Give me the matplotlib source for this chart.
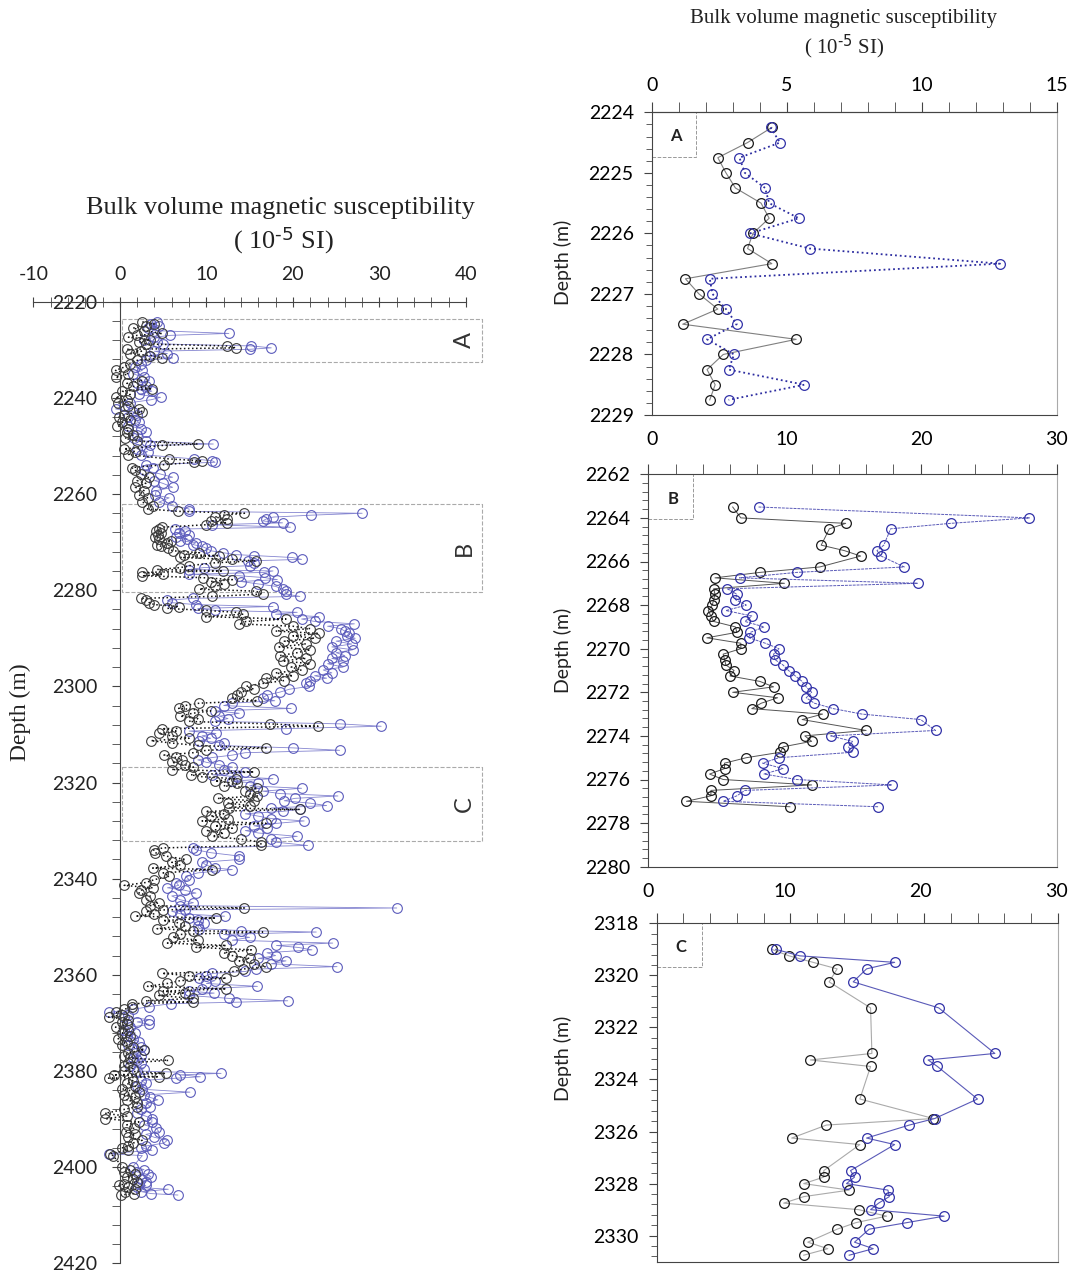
import matplotlib
matplotlib.use('Agg')
import matplotlib.pyplot as plt
from matplotlib.ticker import MultipleLocator
from matplotlib.patches import Rectangle

plt.rcParams['font.family'] = 'Lato'
plt.rcParams['mathtext.default'] = 'regular'
plt.rcParams['axes.unicode_minus'] = False

# ---------------------------------------------------------------------------
# whole-well log (left panel): depth (m), black series, blue series (10^-5 SI)
# ---------------------------------------------------------------------------
depth_left = [
    2224.2, 2224.6, 2225.0, 2225.5, 2226.0, 2226.6, 2227.0, 2227.4, 2227.9, 2228.4,
    2228.8, 2229.2, 2229.6, 2229.9, 2230.3, 2230.8, 2231.2, 2231.7, 2232.2, 2232.9,
    2233.6, 2234.3, 2235.0, 2235.7, 2236.4, 2237.0, 2237.6, 2238.1, 2238.6, 2239.3,
    2239.9, 2240.4, 2241.0, 2241.6, 2242.3, 2242.9, 2243.5, 2244.0, 2244.6, 2245.1,
    2245.8, 2246.4, 2247.2, 2247.8, 2248.4, 2249.0, 2249.6, 2249.9, 2250.6, 2251.2,
    2251.8, 2252.7, 2253.1, 2253.4, 2253.9, 2254.5, 2255.1, 2255.8, 2256.5, 2257.2,
    2257.8, 2258.6, 2259.3, 2260.2, 2260.8, 2261.7, 2262.4, 2263.1,
    2263.6, 2264.0, 2264.4, 2264.8, 2265.2, 2265.6, 2266.0, 2266.4, 2266.9, 2267.3,
    2267.7, 2268.1, 2268.5, 2268.9, 2269.3, 2269.7, 2270.1, 2270.5, 2270.9, 2271.3,
    2271.8, 2272.2, 2272.6, 2272.8, 2273.2, 2273.6, 2273.9, 2274.3, 2274.9, 2275.3,
    2275.7, 2276.0, 2276.3, 2276.7, 2277.0, 2277.4, 2277.8, 2278.2, 2278.7, 2279.2,
    2279.8, 2280.2, 2280.8, 2281.3, 2281.7,
    2282.1, 2282.6, 2283.0, 2283.4, 2283.8, 2284.2, 2284.6, 2285.0, 2285.5, 2286.0,
    2286.5, 2287.0, 2287.5, 2288.0, 2288.5, 2289.0, 2289.5, 2290.0, 2290.6, 2291.2,
    2291.8, 2292.4, 2293.0, 2293.6, 2294.2, 2294.7, 2295.3, 2296.0, 2296.6, 2297.2,
    2297.8, 2298.3, 2298.8, 2299.4, 2300.0, 2300.6, 2301.2, 2301.8, 2302.4,
    2303.0, 2303.5, 2304.0, 2304.6, 2305.1, 2305.6, 2306.2, 2306.7, 2307.3, 2307.8,
    2308.3, 2308.8, 2309.3, 2309.8, 2310.3, 2310.8, 2311.3, 2311.8, 2312.3, 2312.8,
    2313.3, 2313.8, 2314.3, 2314.8, 2315.3, 2315.8, 2316.3, 2316.8, 2317.3, 2317.8,
    2318.4, 2318.8, 2319.2, 2319.7, 2320.2, 2320.7, 2321.2, 2321.8, 2322.3, 2322.8,
    2323.3, 2323.8, 2324.3, 2324.8, 2325.3, 2325.6, 2326.0, 2326.5, 2327.0, 2327.5,
    2328.0, 2328.5, 2329.0, 2329.5, 2330.0, 2330.5, 2331.2, 2331.8, 2332.4, 2333.1,
    2333.6, 2334.0, 2334.6, 2335.3, 2336.0, 2336.6, 2337.2, 2337.8, 2338.1, 2338.8,
    2339.5, 2340.2, 2340.8, 2341.4, 2341.9, 2342.4, 2343.0, 2343.6, 2344.4, 2345.0,
    2345.6, 2346.1, 2346.5, 2346.8, 2347.3, 2347.8, 2348.2, 2348.7, 2349.2, 2349.8,
    2350.4, 2350.8, 2351.1, 2351.6, 2352.2, 2352.8, 2353.4, 2353.9, 2354.3, 2354.8,
    2355.4, 2356.0, 2356.6, 2357.1, 2357.7, 2358.3, 2358.8, 2359.3, 2359.7, 2360.2,
    2360.7, 2361.2, 2361.8, 2362.4, 2362.9, 2363.4, 2363.8, 2364.3, 2364.9, 2365.4,
    2365.7, 2366.0, 2366.6,
    2367.2, 2367.8, 2368.3, 2368.8, 2369.3, 2369.8, 2370.3, 2370.9, 2371.5, 2372.1,
    2372.7, 2373.3, 2373.9, 2374.5, 2375.0, 2375.6, 2376.2, 2376.8, 2377.3, 2377.8,
    2378.3, 2378.9, 2379.5, 2380.0, 2380.5, 2380.8, 2381.2, 2381.5, 2382.0, 2382.6,
    2383.2, 2383.8, 2384.4, 2385.0, 2385.5, 2386.0, 2386.6, 2387.4, 2388.0, 2388.8,
    2389.4, 2389.9, 2390.6, 2391.2, 2391.9, 2392.6, 2393.2, 2393.8, 2394.4, 2395.0,
    2395.6, 2396.0, 2396.5, 2397.2, 2397.6,
    2399.9, 2400.5, 2401.0, 2401.5, 2402.0, 2402.5, 2403.0, 2403.5, 2403.8, 2404.2,
    2404.6, 2405.1, 2405.5, 2405.8,
]
black_left = [
    2.6, 4.0, 3.0, 1.5, 2.8, 4.9, 2.0, 1.0, 3.5, 2.2,
    3.0, 12.4, 13.4, 0.8, 2.5, 1.2, 3.5, 4.9, 2.0, 1.2,
    0.5, -0.5, 1.0, -0.5, 2.6, 0.8, 1.5, 3.7, 0.3, 1.2,
    -0.5, 0.8, -0.2, 1.0, 2.2, 2.6, 0.5, -0.1, 1.2, 0.3,
    -0.3, 1.0, 0.8, 1.5, 0.6, 2.0, 9.0, 4.9, 0.5, 1.8,
    1.0, 5.7, 9.5, 8.6, 5.1, 1.4, 1.8, 2.5, 3.4, 2.0,
    3.0, 1.8, 2.8, 2.2, 3.2, 2.6, 3.8, 3.2,
    6.7, 14.4, 12.0, 11.0, 12.4, 10.5, 12.4, 9.9, 4.9, 4.5,
    4.2, 4.8, 4.4, 4.1, 4.5, 5.9, 5.5, 4.3, 4.8, 5.6,
    6.1, 9.2, 7.4, 11.5, 7.0, 13.0, 15.7, 11.0, 8.0, 7.0,
    4.3, 11.9, 2.6, 5.0, 2.6, 9.6, 13.0, 10.5, 12.0, 11.0,
    9.2, 15.7, 16.5, 10.7, 2.4,
    3.0, 3.4, 4.0, 6.8, 5.5, 9.9, 13.4, 14.2, 9.9, 19.2,
    14.6, 13.8, 20.0, 22.0, 18.0, 23.0, 20.0, 22.5, 19.0, 21.5,
    18.4, 22.0, 20.5, 18.5, 21.5, 18.8, 22.0, 19.8, 21.0, 18.0,
    20.0, 16.9, 19.0, 16.5, 14.6, 15.5, 14.0, 13.5, 13.0,
    15.9, 9.2, 7.5, 6.8, 10.5, 8.4, 7.0, 9.0, 8.0, 17.3,
    22.9, 4.9, 6.5, 4.5, 6.0, 8.0, 3.6, 6.0, 9.0, 16.9,
    10.0, 8.5, 5.1, 6.5, 7.2, 6.0, 7.5, 8.5, 6.0, 15.5,
    8.2, 9.5, 13.4, 11.0, 13.5, 12.0, 15.9, 14.5, 15.0, 15.9,
    11.3, 15.5, 12.5, 15.0, 12.6, 20.8, 9.9, 12.0, 10.5, 12.5,
    9.5, 16.9, 11.0, 13.0, 10.0, 12.0, 10.7, 14.0, 16.3, 16.3,
    5.0, 3.9, 4.1, 5.3, 7.6, 6.0, 7.0, 3.8, 10.7, 5.0,
    5.7, 4.0, 3.0, 0.5, 3.8, 2.5, 2.2, 3.5, 3.0, 4.5,
    3.5, 14.4, 5.0, 3.0, 4.0, 1.8, 11.1, 5.0, 6.8, 7.5,
    4.3, 8.5, 16.5, 7.0, 6.1, 9.0, 5.5, 12.3, 8.8, 15.2,
    12.0, 13.0, 15.0, 13.8, 15.5, 16.9, 14.2, 13.2, 4.9, 8.0,
    12.3, 7.0, 5.5, 3.2, 12.3, 5.0, 7.5, 4.5, 8.4, 3.0,
    8.5, 1.4, 1.4,
    0.5, -0.5, 0.3, -1.3, 1.0, 0.2, 0.8, -0.5, 1.0, 0.3,
    1.2, -0.2, 0.8, 0.2, 1.5, 2.8, 1.0, 0.5, 1.2, 5.6,
    1.0, 0.5, 1.5, 0.5, 5.3, -0.7, 4.5, -1.3, 1.5, 0.8,
    1.8, 0.3, 2.2, 0.5, 1.8, 0.8, 2.0, 2.0, 0.5, -1.7,
    0.8, -1.7, 2.2, 0.8, 1.6, 0.7, 1.8, 1.0, 2.6, 1.5,
    1.0, 0.3, 1.0, -1.1, -0.8,
    0.3, 1.2, 0.5, 1.8, 0.8, 1.5, 2.0, 0.5, -0.1, 1.0,
    1.8, 0.6, 1.6, 0.1,
]
blue_left = [
    4.3, 3.6, 4.5, 3.2, 4.0, 12.6, 5.8, 4.0, 2.8, 4.3,
    5.0, 15.2, 17.5, 15.0, 4.0, 5.5, 3.4, 6.1, 3.0, 2.5,
    1.8, 2.6, 1.5, 2.8, 3.4, 2.0, 3.0, 2.5, 3.7, 2.2,
    4.7, 3.6, 1.2, 0.5, -0.5, 1.5, 2.0, 1.0, 1.8, 2.2,
    1.0, 2.4, 3.0, 2.0, 1.6, 3.0, 10.8, 3.5, 2.0, 3.2,
    2.4, 8.6, 10.7, 11.0, 3.0, 3.8, 2.8, 4.6, 6.1, 4.0,
    5.0, 6.1, 4.2, 4.1, 5.7, 4.5, 6.0, 8.0,
    8.0, 28.0, 22.1, 17.7, 16.9, 16.5, 18.8, 10.6, 19.7, 6.4,
    7.5, 6.8, 8.0, 6.5, 7.8, 7.0, 8.8, 8.4, 9.5, 10.0,
    10.5, 11.9, 13.4, 15.5, 19.9, 21.0, 14.8, 15.5, 15.0, 9.7,
    8.0, 17.7, 16.7, 8.0, 13.8, 16.8, 18.2, 14.0, 16.0, 18.0,
    18.8, 19.2, 19.2, 20.8, 8.4,
    5.5, 6.0, 8.8, 17.7, 9.0, 11.0, 20.5, 18.0, 23.0, 21.0,
    22.5, 27.1, 24.0, 25.5, 26.0, 26.5, 26.2, 27.2, 25.0, 26.8,
    24.5, 26.9, 25.0, 26.0, 24.5, 25.8, 24.0, 25.8, 23.5, 24.5,
    22.5, 23.9, 22.0, 21.5, 21.9, 19.6, 18.5, 17.0, 16.5,
    17.9, 13.0, 12.0, 19.8, 11.0, 13.8, 11.5, 12.5, 11.0, 25.4,
    30.2, 19.2, 8.0, 11.1, 9.5, 10.5, 9.2, 12.0, 11.5, 20.0,
    25.4, 14.5, 13.0, 10.7, 9.0, 10.0, 11.5, 13.0, 12.0, 14.5,
    10.7, 13.5, 17.7, 13.0, 16.0, 15.0, 21.0, 16.5, 18.5, 25.2,
    20.2, 19.0, 22.0, 23.9, 17.5, 20.8, 18.8, 14.5, 16.0, 17.5,
    21.3, 18.1, 15.5, 17.0, 14.5, 16.0, 20.5, 17.5, 18.0, 21.7,
    8.5, 8.8, 10.5, 13.8, 13.8, 9.5, 10.0, 11.0, 13.0, 9.0,
    7.6, 8.0, 6.5, 6.8, 5.5, 7.5, 8.8, 6.0, 7.0, 8.5,
    7.0, 32.0, 7.5, 6.0, 7.0, 12.1, 8.0, 9.0, 9.7, 9.0,
    9.2, 14.0, 22.7, 12.0, 15.0, 13.0, 24.6, 18.1, 20.6, 22.2,
    17.0, 18.0, 16.0, 19.2, 17.5, 25.1, 15.7, 14.5, 10.7, 10.0,
    9.2, 11.0, 10.0, 15.9, 9.5, 8.0, 10.9, 8.0, 12.6, 19.4,
    13.4, 5.9, 3.4,
    1.5, -1.3, 1.0, 0.5, 3.4, 2.0, 3.4, 1.2, 0.5, 1.8,
    0.8, 1.5, 2.2, 1.0, 2.5, 2.8, 1.8, 2.4, 1.5, 2.0,
    2.5, 1.2, 2.8, 2.0, 11.7, 7.0, 9.3, 6.5, 2.5, 3.0,
    2.0, 2.6, 8.1, 2.8, 3.5, 4.4, 3.0, 3.5, 2.5, 2.0,
    3.0, 3.7, 3.7, 2.8, 4.2, 4.5, 3.0, 4.0, 5.5, 5.1,
    3.0, 2.5, 3.7, -1.3, 2.6,
    1.5, 2.8, 2.0, 3.2, 3.6, 2.5, 3.0, 2.2, 3.0, 2.0,
    5.6, 2.5, 3.6, 6.7,
]
# detail intervals marked on the whole-well log
zone_names = ['A', 'B', 'C']
zone_top = [2223.5, 2262.1, 2316.7]
zone_base = [2232.5, 2280.4, 2332.1]

# ---------------------------------------------------------------------------
# detail A
# ---------------------------------------------------------------------------
depth_a = [2224.25, 2224.5, 2224.75, 2225.0, 2225.25, 2225.5, 2225.75, 2226.0, 2226.25, 2226.5,
           2226.75, 2227.0, 2227.25, 2227.5, 2227.75, 2228.0, 2228.25, 2228.5, 2228.75]
black_a = [8.9, 7.1, 4.9, 5.5, 6.2, 8.1, 8.7, 7.5, 7.1, 8.9,
           2.5, 3.5, 4.9, 2.3, 10.7, 5.3, 4.1, 4.7, 4.3]
blue_a = [8.8, 9.5, 6.5, 6.9, 8.4, 8.7, 10.9, 7.3, 11.7, 25.8,
          4.3, 4.5, 5.5, 6.3, 4.1, 6.1, 5.7, 11.3, 5.7]

# ---------------------------------------------------------------------------
# detail B
# ---------------------------------------------------------------------------
depth_b = [2263.5, 2264.0, 2264.25, 2264.5, 2265.25, 2265.5, 2265.75, 2266.25, 2266.5, 2266.75,
           2267.0, 2267.25, 2267.5, 2267.75, 2268.0, 2268.25, 2268.5, 2268.75, 2269.0, 2269.25,
           2269.5, 2269.75, 2270.0, 2270.25, 2270.5, 2270.75, 2271.0, 2271.25, 2271.5, 2271.75,
           2272.0, 2272.25, 2272.5, 2272.75, 2273.0, 2273.25, 2273.75, 2274.0, 2274.25, 2274.5,
           2274.75, 2275.0, 2275.25, 2275.5, 2275.75, 2276.0, 2276.25, 2276.5, 2276.75, 2277.0,
           2277.25]
black_b = [6.2, 6.8, 14.5, 13.3, 12.7, 14.4, 15.6, 12.6, 8.2, 4.9,
           10.0, 4.8, 4.9, 4.8, 4.7, 4.4, 4.6, 4.8, 6.4, 6.5,
           4.3, 6.8, 6.8, 5.5, 5.6, 5.7, 6.3, 6.0, 8.2, 9.2,
           6.2, 9.5, 8.3, 7.6, 12.8, 11.3, 16.0, 11.5, 12.0, 9.9,
           9.7, 7.2, 5.6, 5.6, 4.5, 5.5, 12.0, 4.6, 4.6, 2.8,
           10.4]
blue_b = [8.1, 28.0, 22.2, 17.8, 17.3, 16.8, 17.1, 18.8, 10.9, 6.7,
          19.8, 5.8, 6.5, 6.4, 7.2, 5.7, 7.6, 7.1, 8.5, 7.5,
          7.4, 8.6, 9.6, 9.2, 9.3, 9.9, 10.3, 10.8, 11.3, 11.6,
          12.0, 11.6, 12.2, 13.6, 15.7, 20.0, 21.1, 13.4, 15.0, 14.7,
          15.0, 9.6, 8.4, 9.9, 8.5, 10.9, 17.9, 7.1, 6.5, 5.5,
          16.9]

# ---------------------------------------------------------------------------
# detail C
# ---------------------------------------------------------------------------
depth_c = [2319.0, 2319.25, 2319.5, 2319.75, 2320.25, 2321.25, 2323.0, 2323.25, 2323.5, 2324.75,
           2325.5, 2325.75, 2326.25, 2326.5, 2327.5, 2327.75, 2328.0, 2328.25, 2328.5, 2328.75,
           2329.0, 2329.25, 2329.5, 2329.75, 2330.25, 2330.5, 2330.75]
black_c = [8.6, 9.9, 11.7, 13.5, 12.9, 16.0, 16.1, 11.5, 16.0, 15.2,
           20.7, 12.7, 10.1, 15.2, 12.5, 12.5, 11.0, 14.4, 11.0, 9.5,
           15.1, 17.2, 14.9, 13.5, 11.3, 12.8, 11.0]
blue_c = [8.9, 10.7, 17.8, 15.7, 14.7, 21.1, 25.3, 20.3, 21.0, 24.0,
          20.8, 18.9, 15.7, 17.8, 14.5, 14.8, 14.2, 17.3, 17.4, 16.6,
          16.0, 21.5, 18.7, 15.9, 14.8, 16.2, 14.4]

units = r'( 10$^{\text{-5}}$ SI)'

W, H = 1076, 1279
fig = plt.figure(figsize=(W / 100, H / 100), dpi=100)


def add_ax(left, top, right, bottom):
    return fig.add_axes([left / W, 1 - bottom / H, (right - left) / W, (bottom - top) / H])


# ============================== left panel ==============================
ax = add_ax(33.3, 301.7, 466, 1263.3)
ax.plot(blue_left, depth_left, '-', color='#8585d0', lw=0.6, marker='o', ms=7,
        mfc='none', mec='#5c5cbc', mew=0.8)
ax.plot(black_left, depth_left, ':', color='#111111', lw=1.1, marker='o', ms=7,
        mfc='none', mec='#3a3a3a', mew=0.8)
ax.set_xlim(-10, 40)
ax.set_ylim(2420, 2220)
ax.spines['left'].set_position(('data', 0))
ax.spines['right'].set_visible(False)
ax.spines['bottom'].set_visible(False)
for s in ['left', 'top']:
    ax.spines[s].set_color('#444444')
ax.xaxis.tick_top()
ax.set_xticks(range(-10, 41, 10))
ax.xaxis.set_minor_locator(MultipleLocator(2))
ax.tick_params(axis='x', which='both', direction='inout', length=7, color='#444444',
               labelsize=14, pad=10, labelcolor='#222222')
ax.set_yticks(range(2220, 2421, 20))
ax.yaxis.set_minor_locator(MultipleLocator(4))
ax.tick_params(axis='y', which='both', direction='out', length=6, color='#444444',
               labelsize=14, pad=10, labelcolor='#222222')

for name, top, base in zip(zone_names, zone_top, zone_base):
    ax.add_patch(Rectangle((0.2, top), 41.6, base - top, fill=False, ls='--', lw=0.8,
                           ec='#aaaaaa', clip_on=False))
    ax.text(39.8, (top + base) / 2, name, rotation=90, ha='center', va='center',
            fontsize=17, color='#333333', clip_on=False)

fig.text(280 / W, 1 - 208 / H, 'Bulk volume magnetic susceptibility',
         family='Liberation Serif', fontsize=19, ha='center', va='center', color='#222222')
fig.text(283 / W, 1 - 240 / H, units,
         family='Liberation Serif', fontsize=19, ha='center', va='center', color='#222222')
fig.text(20 / W, 1 - 712 / H, 'Depth (m)', rotation=90, family='Liberation Serif',
         fontsize=17, ha='center', va='center', color='#222222')


# ============================== detail panels ==============================
def detail(ax, depth, black, blue, ylim, major, minor, black_style, blue_style, label, box):
    ax.plot(black, depth, **black_style, marker='o', ms=7, mfc='none', mec='#1a1a1a', mew=0.9)
    ax.plot(blue, depth, **blue_style, marker='o', ms=7, mfc='none', mec='#3232a8', mew=0.9)
    ax.set_xlim(0, 30)
    ax.set_ylim(ylim[1], ylim[0])
    ax.set_yticks(range(ylim[0], ylim[1] + 1, major))
    ax.yaxis.set_minor_locator(MultipleLocator(minor))
    ax.tick_params(axis='y', which='major', direction='out', length=6, color='#444444',
                   labelsize=14, pad=7)
    ax.tick_params(axis='y', which='minor', direction='out', length=4, color='#444444')
    ax.set_xticks([0, 10, 20, 30])
    ax.xaxis.set_minor_locator(MultipleLocator(2))
    ax.spines['right'].set_color('#aaaaaa')
    for s in ['left', 'top', 'bottom']:
        ax.spines[s].set_color('#444444')
    ax.add_patch(Rectangle((0, 1 - box[1]), box[0], box[1], transform=ax.transAxes,
                           fill=False, ls='--', lw=0.7, ec='#999999'))
    ax.text(box[0] / 2 + 0.005, 1 - box[1] / 2 - 0.005, label, transform=ax.transAxes,
            fontweight='bold', fontsize=12, ha='center', va='center', color='#222222')


# A
axA = add_ax(651.7, 112.3, 1056.7, 415)
detail(axA, depth_a, black_a, blue_a, (2224, 2229), 1, 0.2,
       dict(ls='-', color='#808080', lw=0.8), dict(ls=':', color='#2c2ca0', lw=1.3),
       'A', (0.11, 0.148))
axA.tick_params(axis='x', which='both', top=False, bottom=False, labelsize=14, pad=8)
secA = axA.secondary_xaxis('top', functions=(lambda v: v / 2, lambda v: v * 2))
secA.set_xticks([0, 5, 10, 15])
secA.xaxis.set_minor_locator(MultipleLocator(1))
secA.tick_params(which='both', direction='out', length=7, color='#444444', labelsize=14, pad=6)
secA.spines['top'].set_color('#444444')

# B
axB = add_ax(648.3, 474.3, 1056.7, 866.7)
detail(axB, depth_b, black_b, blue_b, (2262, 2280), 2, 0.4,
       dict(ls='-', color='#555555', lw=0.7), dict(ls=(0, (3, 1)), color='#5a5ab8', lw=0.7),
       'B', (0.11, 0.115))
axB.tick_params(axis='x', which='both', top=True, bottom=False, labeltop=False,
                labelbottom=True, direction='out', length=7, color='#444444',
                labelsize=14, pad=5)

# C
axC = add_ax(656.7, 923.3, 1057.7, 1261.7)
detail(axC, depth_c, black_c, blue_c, (2318, 2331), 2, 0.4,
       dict(ls='-', color='#aaaaaa', lw=0.8), dict(ls='-', color='#5a5ab8', lw=0.8),
       'C', (0.112, 0.13))
axC.set_yticks(range(2318, 2331, 2))
axC.tick_params(axis='x', which='both', top=True, bottom=False, labeltop=False,
                labelbottom=False, direction='out', length=7, color='#444444')

fig.text(844 / W, 1 - 18 / H, 'Bulk volume magnetic susceptibility',
         family='Liberation Serif', fontsize=15, ha='center', va='center', color='#222222')
fig.text(844 / W, 1 - 46 / H, units,
         family='Liberation Serif', fontsize=15, ha='center', va='center', color='#222222')
for yc in [262, 650, 1058]:
    fig.text(563 / W, 1 - yc / H, 'Depth (m)', rotation=90, fontsize=14,
             ha='center', va='center', color='#222222')

fig.savefig('out.png', dpi=100)
